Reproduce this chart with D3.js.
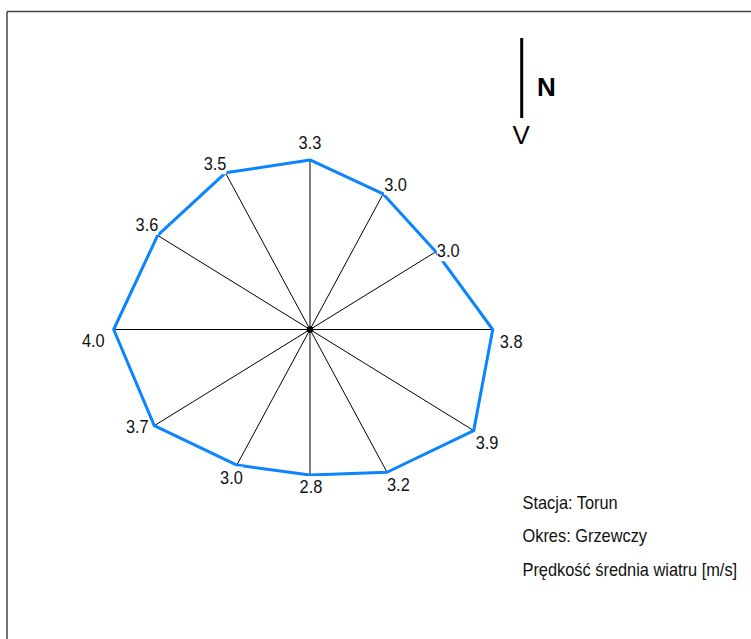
<!DOCTYPE html>
<html>
<head>
<meta charset="utf-8">
<script src="https://cdn.jsdelivr.net/npm/d3@7"></script>
<style>
  body { margin: 0; background: #fff; }
  svg text { font-family: "Liberation Sans", Arial, sans-serif; }
</style>
</head>
<body>
<svg width="751" height="639"></svg>
<script>
// directions (deg from north, clockwise) and mean wind speed [m/s]
var angles = [0, 30, 60, 90, 120, 150, 180, 210, 240, 270, 300, 330];
var speeds = [3.26, 3.01, 2.99, 3.76, 3.89, 3.17, 2.80, 3.01, 3.70, 4.04, 3.62, 3.48];
var legendLines = ["Stacja: Torun", "Okres: Grzewczy", "Prędkość średnia wiatru [m/s]"];

var fmt = d3.format(".1f");
var squeeze = 0.88; // the original font is narrower than Arial

var svg = d3.select("svg");
var cx = 310, cy = 329.5;

// the rose is slightly squashed horizontally
var rx = d3.scaleLinear().domain([0, 4]).range([0, 194.4]);
var ry = d3.scaleLinear().domain([0, 4]).range([0, 208]);

function px(a, v) { return cx + rx(v) * Math.sin(a * Math.PI / 180); }
function py(a, v) { return cy - ry(v) * Math.cos(a * Math.PI / 180); }

function narrow(sel) {
    sel.each(function () {
        var w = this.getComputedTextLength();
        d3.select(this).attr("textLength", w * squeeze).attr("lengthAdjust", "spacingAndGlyphs");
    });
}

var pts = angles.map((a, i) => ({ a: a, v: speeds[i], x: px(a, speeds[i]), y: py(a, speeds[i]) }));

// frame
svg.append("line").attr("x1", 7).attr("y1", 11.5).attr("x2", 751).attr("y2", 11.5)
    .attr("stroke", "#444").attr("stroke-width", 1.5);
svg.append("line").attr("x1", 7).attr("y1", 11.5).attr("x2", 7).attr("y2", 639)
    .attr("stroke", "#444").attr("stroke-width", 1.5);

// spokes
svg.append("g").selectAll("line")
    .data(pts).enter().append("line")
    .attr("x1", cx).attr("y1", cy)
    .attr("x2", d => d.x).attr("y2", d => d.y)
    .attr("stroke", "#000").attr("stroke-width", 1);

svg.append("circle").attr("cx", cx).attr("cy", cy).attr("r", 3.3).attr("fill", "#000");

// polygon
var line = d3.line().x(d => d.x).y(d => d.y).curve(d3.curveLinearClosed);
svg.append("path").attr("d", line(pts))
    .attr("fill", "none").attr("stroke", "#0a84ff").attr("stroke-width", 3)
    .attr("stroke-linejoin", "round");

// label placement around each vertex: anchor, dx, dy (baseline)
var place = [
    ["middle", 0, -10.5], ["start", 1, -3], ["start", 1, 5.5], ["start", 7, 18.5],
    ["start", 2, 18], ["start", 0, 19], ["middle", 1, 18], ["end", 6, 18.5],
    ["end", -5.6, 7.4], ["end", -9, 17.4], ["end", 0.7, -4.7], ["end", 1, -2.6]
];

var lab = svg.append("g").selectAll("g")
    .data(pts).enter().append("g");
var txt = lab.append("text")
    .attr("x", (d, i) => d.x + place[i][1])
    .attr("y", (d, i) => d.y + place[i][2])
    .attr("text-anchor", (d, i) => place[i][0])
    .attr("font-size", 18.6)
    .attr("fill", "#111")
    .text(d => fmt(d.v))
    .call(narrow);
txt.each(function () {
    var b = this.getBBox();
    d3.select(this.parentNode).insert("rect", "text")
        .attr("x", b.x).attr("y", b.y).attr("width", b.width).attr("height", b.height)
        .attr("fill", "#fff");
});

// north marker
svg.append("line").attr("x1", 521.7).attr("y1", 38).attr("x2", 521.7).attr("y2", 118)
    .attr("stroke", "#000").attr("stroke-width", 3);
svg.append("text").attr("x", 537).attr("y", 96).attr("font-size", 26).attr("font-weight", "bold")
    .text("N");
svg.append("text").attr("x", 512.5).attr("y", 144).attr("font-size", 26)
    .text("V");

// legend
svg.append("g").selectAll("text")
    .data(legendLines).enter().append("text")
    .attr("x", 522.5)
    .attr("y", (d, i) => 508.5 + i * 33.75)
    .attr("font-size", 18.6)
    .attr("fill", "#111")
    .text(d => d)
    .call(narrow);
</script>
</body>
</html>
